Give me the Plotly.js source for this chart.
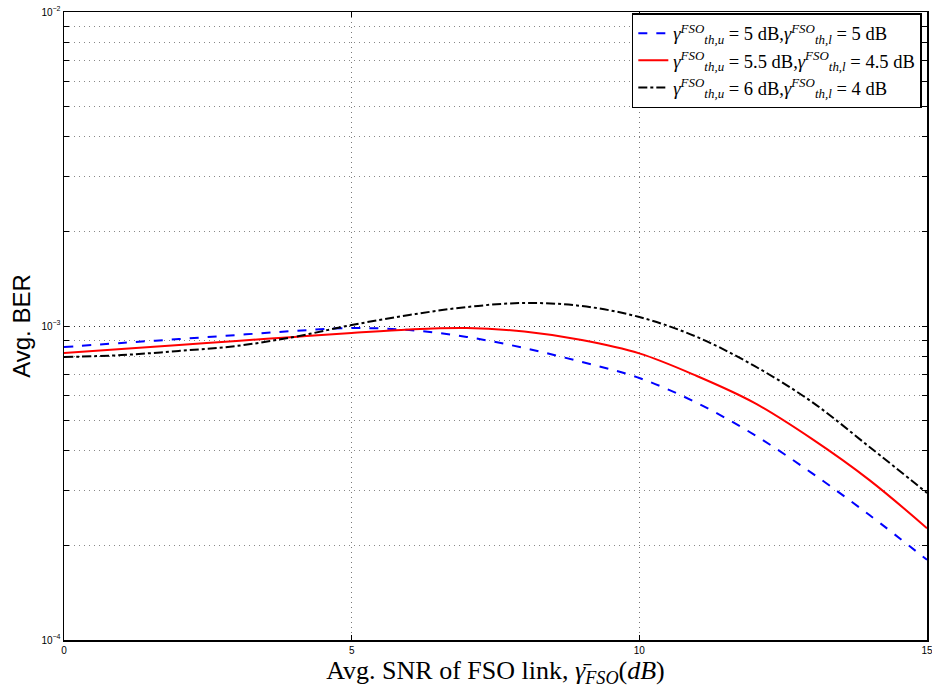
<!DOCTYPE html>
<html>
<head>
<meta charset="utf-8">
<script src="https://cdn.plot.ly/plotly-3.0.1.min.js"></script>
<style>html,body{margin:0;padding:0;background:#fff;}#chart{width:932px;height:694px;}</style>
</head>
<body>
<div id="chart"></div>
<script>
const snr = [0,1,2,3,4,5,6,7,8,9,10,11,12,13,14,15];
const berA = [8.57e-4,8.83e-4,9.09e-4,9.36e-4,9.64e-4,9.85e-4,9.71e-4,9.23e-4,8.51e-4,7.68e-4,6.83e-4,5.69e-4,4.50e-4,3.40e-4,2.50e-4,1.80e-4];
const berB = [8.20e-4,8.45e-4,8.70e-4,8.96e-4,9.23e-4,9.50e-4,9.75e-4,9.85e-4,9.60e-4,9.02e-4,8.18e-4,6.93e-4,5.69e-4,4.37e-4,3.23e-4,2.27e-4];
const berC = [7.96e-4,8.08e-4,8.33e-4,8.64e-4,9.23e-4,1.007e-3,1.084e-3,1.149e-3,1.184e-3,1.158e-3,1.068e-3,9.23e-4,7.46e-4,5.73e-4,4.12e-4,2.94e-4];
const names = [
  "<i>γ</i><sup><i>FSO</i></sup><sub><i>th,u</i></sub> = 5 dB,<i>γ</i><sup><i>FSO</i></sup><sub><i>th,l</i></sub> = 5 dB",
  "<i>γ</i><sup><i>FSO</i></sup><sub><i>th,u</i></sub> = 5.5 dB,<i>γ</i><sup><i>FSO</i></sup><sub><i>th,l</i></sub> = 4.5 dB",
  "<i>γ</i><sup><i>FSO</i></sup><sub><i>th,u</i></sub> = 6 dB,<i>γ</i><sup><i>FSO</i></sup><sub><i>th,l</i></sub> = 4 dB"
];
const xTicks = [0,5,10,15];
const yDecades = [1e-4,1e-3,1e-2];
const yDecadeText = ["10<sup>−4</sup>","10<sup>−3</sup>","10<sup>−2</sup>"];

// minor gridline positions 2..9 within each decade
const yMinor = [];
for (let d = 0; d < yDecades.length - 1; d++) {
  for (let m = 2; m <= 9; m++) yMinor.push(yDecades[d] * m);
}

const traces = [
  {x: snr, y: berA, name: names[0], mode: "lines", line: {color: "#0000ff", width: 2, dash: "dash", shape: "spline", smoothing: 1}},
  {x: snr, y: berB, name: names[1], mode: "lines", line: {color: "#ff0000", width: 2, shape: "spline", smoothing: 1}},
  {x: snr, y: berC, name: names[2], mode: "lines", line: {color: "#000000", width: 2, dash: "dashdot", shape: "spline", smoothing: 1}}
];

const gridDash = "1px,4px";
const layout = {
  width: 932, height: 694,
  margin: {l: 64, r: 5, t: 12, b: 54},
  paper_bgcolor: "#fff", plot_bgcolor: "#fff",
  showlegend: true,
  legend: {
    x: 0.994, xanchor: "right", y: 0.998, yanchor: "top",
    bgcolor: "#fff", bordercolor: "#000", borderwidth: 1.5,
    font: {family: "Liberation Serif, DejaVu Serif, serif", size: 18.5, color: "#000"},
    tracegroupgap: 0, itemwidth: 30
  },
  xaxis: {
    range: [0, 15], tickvals: xTicks, ticktext: xTicks.map(String),
    showline: true, linecolor: "#000", linewidth: 1.5, mirror: "ticks",
    ticks: "inside", ticklen: 5, tickcolor: "#000",
    showgrid: true, gridcolor: "#777", griddash: gridDash, gridwidth: 1,
    zeroline: false, ticklabeloverflow: "allow",
    tickfont: {family: "Liberation Sans, Arial, sans-serif", size: 10, color: "#000"},
    title: {text: "Avg. SNR of FSO link, <i>γ̄</i><sub><i>FSO</i></sub>(<i>dB</i>)", font: {family: "Liberation Serif, DejaVu Serif, serif", size: 26, color: "#000"}, standoff: 6}
  },
  yaxis: {
    type: "log", range: [-4, -2],
    tickvals: yDecades, ticktext: yDecadeText,
    showline: true, linecolor: "#000", linewidth: 1.5, mirror: "ticks",
    ticks: "inside", ticklen: 5, tickcolor: "#000",
    showgrid: true, gridcolor: "#333", griddash: gridDash, gridwidth: 1,
    zeroline: false,
    minor: {tickvals: yMinor, ticks: "inside", ticklen: 5, tickcolor: "#000", showgrid: true, gridcolor: "#888", griddash: gridDash, gridwidth: 1},
    tickfont: {family: "Liberation Sans, Arial, sans-serif", size: 10, color: "#000"},
    title: {text: "Avg. BER", font: {family: "Liberation Sans, Arial, sans-serif", size: 24, color: "#000"}, standoff: 4}
  }
};

Plotly.newPlot("chart", traces, layout, {displayModeBar: false, staticPlot: true});
</script>
</body>
</html>
